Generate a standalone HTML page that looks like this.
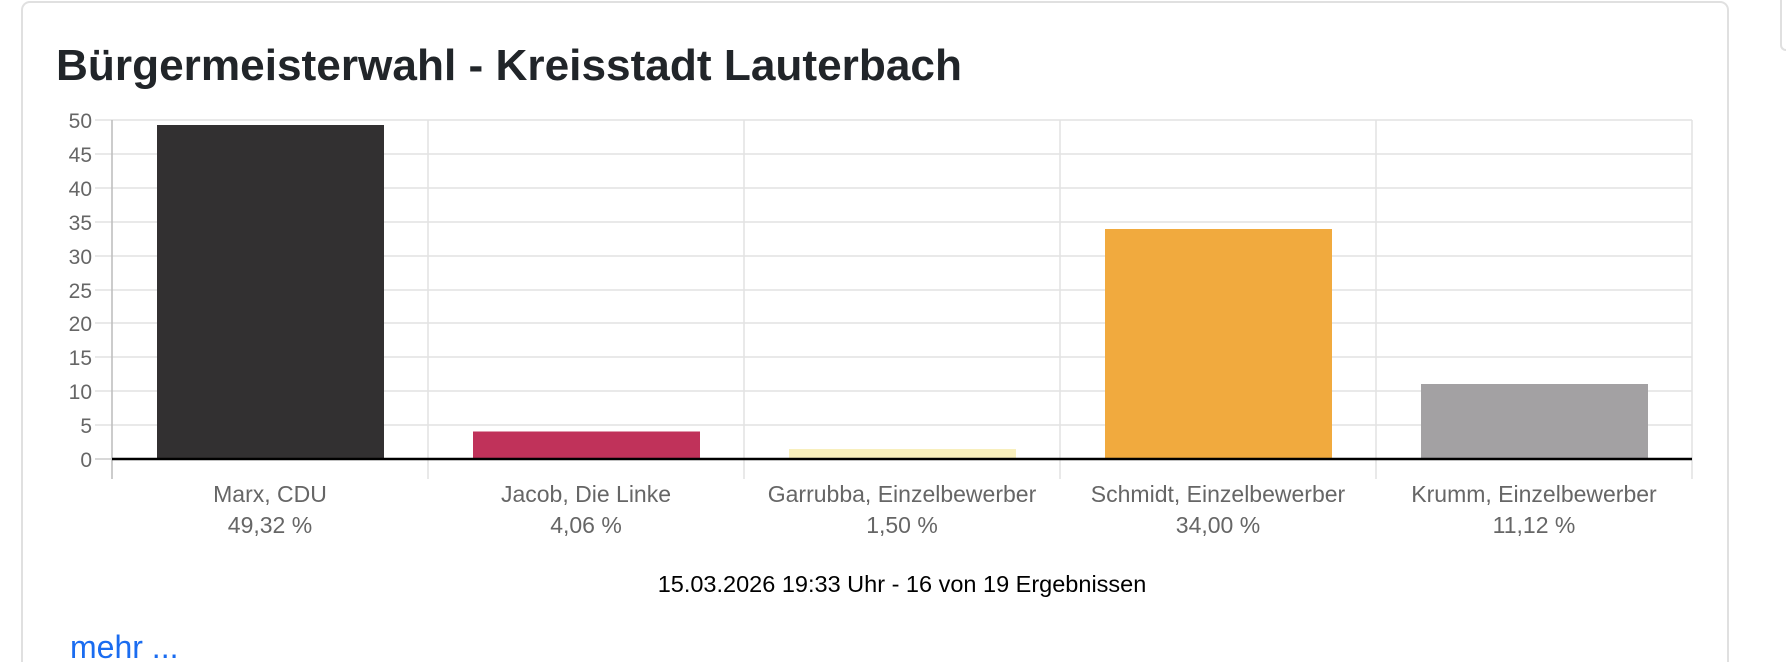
<!DOCTYPE html>
<html><head><meta charset="utf-8"><style>
html,body{margin:0;padding:0;background:#fff;width:1786px;height:662px;overflow:hidden;font-family:"Liberation Sans",Arial,sans-serif}
.wrap{position:relative;width:1786px;height:662px;overflow:hidden}
.card{position:absolute;left:21px;top:1px;width:1708px;height:661px;border:2px solid #e0e0e0;border-bottom:none;border-radius:9px 9px 0 0;box-sizing:border-box}
.side{position:absolute;left:1780px;top:0;width:6px;height:51px;border:2px solid #e0e0e0;border-right:none;border-top:none;border-radius:0 0 0 8px;box-sizing:border-box}
</style></head><body><div class="wrap">
<div class="card"></div><div class="side"></div>
<svg width="1786" height="662" style="position:absolute;left:0;top:0" font-family="Liberation Sans, Arial, sans-serif">
<text x="56" y="80" font-size="44" font-weight="bold" fill="#212529" textLength="906" lengthAdjust="spacingAndGlyphs">Bürgermeisterwahl - Kreisstadt Lauterbach</text>
<g stroke="#e2e2e2" stroke-width="1.5">
<line x1="95" y1="120" x2="1692" y2="120"/><line x1="95" y1="154" x2="1692" y2="154"/><line x1="95" y1="188" x2="1692" y2="188"/><line x1="95" y1="222" x2="1692" y2="222"/><line x1="95" y1="256" x2="1692" y2="256"/><line x1="95" y1="290" x2="1692" y2="290"/><line x1="95" y1="323" x2="1692" y2="323"/><line x1="95" y1="357" x2="1692" y2="357"/><line x1="95" y1="391" x2="1692" y2="391"/><line x1="95" y1="425" x2="1692" y2="425"/>
<line x1="428" y1="120" x2="428" y2="479"/><line x1="744" y1="120" x2="744" y2="479"/><line x1="1060" y1="120" x2="1060" y2="479"/><line x1="1376" y1="120" x2="1376" y2="479"/><line x1="1692" y1="120" x2="1692" y2="479"/>
</g>
<line x1="112" y1="120" x2="112" y2="479" stroke="#bbb" stroke-width="1.5"/>
<line x1="95" y1="459" x2="112" y2="459" stroke="#ccc" stroke-width="1.5"/>
<rect x="157" y="125" width="227" height="334" fill="#323031"/>
<rect x="473" y="431.5" width="227" height="27.5" fill="#c0325a"/>
<rect x="789" y="449" width="227" height="10" fill="#f8efbd"/>
<rect x="1105" y="229" width="227" height="230" fill="#f1aa3e"/>
<rect x="1421" y="384" width="227" height="75" fill="#a3a1a3"/>
<line x1="112" y1="459" x2="1692" y2="459" stroke="#000" stroke-width="2.5"/>
<g font-size="21" fill="#666" text-anchor="end">
<text x="92" y="128">50</text><text x="92" y="162">45</text><text x="92" y="196">40</text><text x="92" y="230">35</text><text x="92" y="264">30</text><text x="92" y="298">25</text><text x="92" y="331">20</text><text x="92" y="365">15</text><text x="92" y="399">10</text><text x="92" y="433">5</text><text x="92" y="467">0</text>
</g>
<g font-size="23" fill="#666" text-anchor="middle">
<text x="270" y="502">Marx, CDU</text><text x="270" y="533">49,32 %</text>
<text x="586" y="502">Jacob, Die Linke</text><text x="586" y="533">4,06 %</text>
<text x="902" y="502">Garrubba, Einzelbewerber</text><text x="902" y="533">1,50 %</text>
<text x="1218" y="502">Schmidt, Einzelbewerber</text><text x="1218" y="533">34,00 %</text>
<text x="1534" y="502">Krumm, Einzelbewerber</text><text x="1534" y="533">11,12 %</text>
</g>
<text x="902" y="592" font-size="23.5" fill="#000" text-anchor="middle">15.03.2026 19:33 Uhr - 16 von 19 Ergebnissen</text>
<text x="70" y="658" font-size="32" fill="#1a6cf0">mehr ...</text>
</svg>
</div></body></html>
